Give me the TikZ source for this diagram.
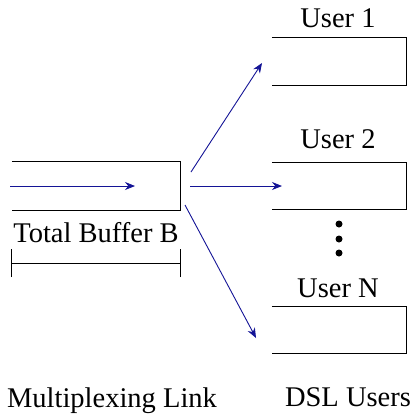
\documentclass[tikz,border=0pt]{standalone}
\usepackage{fontspec}
\setmainfont{Liberation Serif}
\usetikzlibrary{arrows.meta}
\begin{document}
\begin{tikzpicture}[x=1pt,y=-1pt,
  lbl/.style={font=\fontsize{28.5}{32}\selectfont, inner sep=0pt, anchor=base},
  slot/.style={minimum width=#1, minimum height=47pt, inner sep=0pt, draw=none},
  side/.style={line width=1pt, black},
  flow/.style={line width=0.9pt, draw={rgb,255:red,20;green,20;blue,150},
    -{Stealth[length=10pt,width=8pt]}},
  dot/.style={circle, fill=black, inner sep=0pt, minimum size=7pt}]
\useasboundingbox (0,0) rectangle (415,413);

% buffer of the multiplexing link (open on the left)
\node[slot=168pt, minimum height=48pt] (buf) at (96,186) {};
\draw[side] (buf.north west) -- (buf.north east) -- (buf.south east) -- (buf.south west);

% user queues
\node[slot=134pt] (u1) at (339,61.5) {};
\node[slot=134pt] (u2) at (339,186) {};
\node[slot=134pt] (uN) at (339,330) {};
\foreach \u in {u1,u2,uN}
  \draw[side] (\u.north west) -- (\u.north east) -- (\u.south east) -- (\u.south west);

% labels
\node[lbl] (l1) at (338,27) {User 1};
\node[lbl] (l2) at (338,148) {User 2};
\node[lbl] (lN) at (338,297) {User N};
\node[lbl] (lb) at (96,242) {Total Buffer B};
\node[lbl] (lm) at (112,407) {Multiplexing Link};
\node[lbl] (ld) at (348,406) {DSL Users};

% vertical dots
\node[dot] (d1) at (339,224) {};
\node[dot] (d2) at (339,239) {};
\node[dot] (d3) at (339,253) {};

% buffer size bracket
\coordinate (bl) at (buf.south west |- 263,263);
\coordinate (br) at (buf.south east |- 263,263);
\draw[side, line width=0.8pt] ([yshift=-14pt]bl) -- ([yshift=14pt]bl);
\draw[side, line width=0.8pt] ([yshift=-14pt]br) -- ([yshift=14pt]br);
\draw[side, line width=0.8pt] (bl) -- (br);

% traffic arrows
\coordinate (inS) at (10,186);
\coordinate (inE) at (135,186);
\draw[flow] (inS) -- (inE);
\coordinate (s1) at (191,172);
\coordinate (s2) at (190,186);
\coordinate (s3) at (185,205);
\coordinate (e1) at (262,63);
\coordinate (e2) at (282,186);
\coordinate (e3) at (256,338);
\draw[flow] (s1) -- (e1);
\draw[flow] (s2) -- (e2);
\draw[flow] (s3) -- (e3);
\end{tikzpicture}
\end{document}
